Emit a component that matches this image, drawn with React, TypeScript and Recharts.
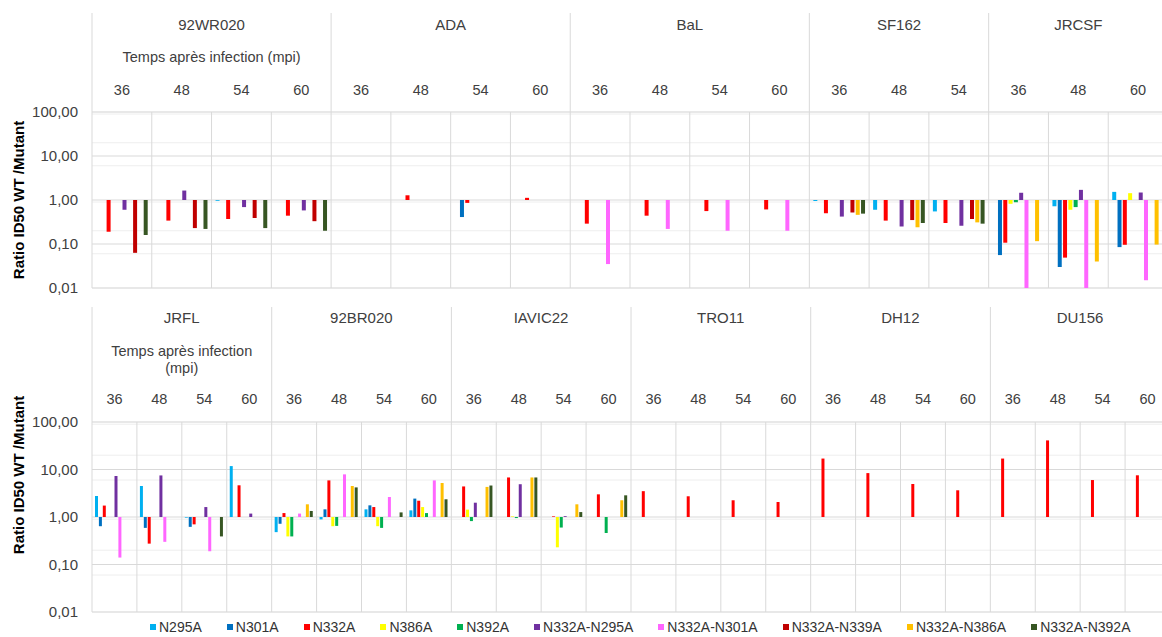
import React from 'react';
import { BarChart, Bar, XAxis, YAxis, CartesianGrid, Legend } from 'recharts';

// series (mutants) and their colours
const seriesNames = ['N295A', 'N301A', 'N332A', 'N386A', 'N392A', 'N332A-N295A', 'N332A-N301A', 'N332A-N339A', 'N332A-N386A', 'N332A-N392A'];
const seriesColors = ['#00B0F0', '#0070C0', '#FF0000', '#FFFF00', '#00B050', '#7030A0', '#FF66FF', '#C00000', '#FFC000', '#375623'];

// top panel: viruses and time points (mpi)
const topViruses = ['92WR020', 'ADA', 'BaL', 'SF162', 'JRCSF'];
const topTimes = [[36, 48, 54, 60], [36, 48, 54, 60], [36, 48, 54, 60], [36, 48, 54], [36, 48, 60]];

const topN295A = [null, null, 0.96, null, null, null, null, null, null, null, null, null, 0.95, 0.6, 0.55, null, 0.72, 1.53];
const topN301A = [null, null, null, null, null, null, 0.41, null, null, null, null, null, null, null, null, 0.056, 0.03, 0.085];
const topN332A = [0.19, 0.34, 0.37, 0.44, null, 1.28, 0.86, 1.12, 0.29, 0.44, 0.56, 0.61, 0.5, 0.34, 0.3, 0.107, 0.049, 0.096];
const topN386A = [null, null, null, null, null, null, null, null, null, null, null, null, null, null, null, 0.82, 0.6, 1.43];
const topN392A = [null, null, null, null, null, null, null, null, null, null, null, null, null, null, null, 0.89, 0.69, null];
const topN332AN295A = [0.6, 1.64, 0.69, 0.58, null, null, null, null, null, null, null, null, 0.42, 0.25, 0.26, 1.46, 1.7, 1.48];
const topN332AN301A = [null, null, null, null, null, null, null, null, 0.035, 0.22, 0.2, 0.2, null, null, null, 0.01, 0.01, 0.015];
const topN332AN339A = [0.063, 0.23, 0.39, 0.33, null, null, null, null, null, null, null, null, 0.52, 0.35, 0.37, null, null, null];
const topN332AN386A = [null, null, null, null, null, null, null, null, null, null, null, null, 0.46, 0.24, 0.31, 0.116, 0.04, 0.097];
const topN332AN392A = [0.16, 0.22, 0.23, 0.2, null, null, null, null, null, null, null, null, 0.49, 0.3, 0.29, null, null, null];

// bottom panel
const bottomViruses = ['JRFL', '92BR020', 'IAVIC22', 'TRO11', 'DH12', 'DU156'];
const bottomTimes = [[36, 48, 54, 60], [36, 48, 54, 60], [36, 48, 54, 60], [36, 48, 54, 60], [36, 48, 54, 60], [36, 48, 54, 60]];

const botN295A = [2.77, 4.5, 0.97, 11.8, 0.48, 0.89, 1.45, 1.38, null, null, null, null, null, null, null, null, null, null, null, null, null, null, null, null];
const botN301A = [0.64, 0.59, 0.62, null, 0.72, 1.45, 1.76, 2.44, null, null, null, null, null, null, null, null, null, null, null, null, null, null, null, null];
const botN332A = [1.74, 0.275, 0.7, 4.65, 1.21, 5.9, 1.62, 2.2, 4.4, 6.8, 1.03, 3.0, 3.5, 2.73, 2.25, 2.07, 17, 8.4, 4.95, 3.65, 17, 41, 6.0, 7.55];
const botN386A = [null, null, null, null, 0.39, 0.64, 0.64, 1.62, 1.43, 1.03, 0.23, null, null, null, null, null, null, null, null, null, null, null, null, null];
const botN392A = [null, null, null, null, 0.39, 0.65, 0.59, 1.21, 0.82, 0.95, 0.6, 0.46, null, null, null, null, null, null, null, null, null, null, null, null];
const botN332AN295A = [7.3, 7.5, 1.62, 1.18, null, null, null, null, 2.0, 4.9, 1.04, null, null, null, null, null, null, null, null, null, null, null, null, null];
const botN332AN301A = [0.14, 0.3, 0.19, null, 1.18, 7.9, 2.64, 5.9, null, null, null, null, null, null, null, null, null, null, null, null, null, null, null, null];
const botN332AN339A = [null, null, null, null, null, null, null, null, null, null, null, null, null, null, null, null, null, null, null, null, null, null, null, null];
const botN332AN386A = [null, null, null, null, 1.85, 4.5, null, 5.2, 4.3, 6.8, 1.85, 2.25, null, null, null, null, null, null, null, null, null, null, null, null];
const botN332AN392A = [null, null, 0.39, null, 1.34, 4.2, 1.25, 2.36, 4.6, 6.8, 1.27, 2.86, null, null, null, null, null, null, null, null, null, null, null, null];

const yTicks = [0.01, 0.1, 1, 10, 100];
const minorTicks = [0.01, 0.1, 1, 10].flatMap((d) => [2, 3, 4, 5, 6, 7, 8, 9].map((k) => d * k));

const CHART_W = 1180;
const PLOT_W = 1076;
const FONT = '"Liberation Sans", Arial, sans-serif';

function buildRows(viruses, times, series) {
  const rows = [];
  viruses.forEach((v, g) => {
    times[g].forEach((t, j) => {
      const i = rows.length;
      const row: any = { key: `${v}-${t}`, grp: v, time: t, first: j === 0, size: times[g].length, firstGroup: g === 0, idx: i + 0.5 };
      seriesNames.forEach((s, k) => { row[s] = series[k][i]; });
      rows.push(row);
    });
  });
  return rows;
}

const topRows = buildRows(topViruses, topTimes, [topN295A, topN301A, topN332A, topN386A, topN392A, topN332AN295A, topN332AN301A, topN332AN339A, topN332AN386A, topN332AN392A]);
const bottomRows = buildRows(bottomViruses, bottomTimes, [botN295A, botN301A, botN332A, botN386A, botN392A, botN332AN295A, botN332AN301A, botN332AN339A, botN332AN386A, botN332AN392A]);

const fmt = (v) => v.toFixed(2).replace('.', ',');

const makeHeaderTick = (rows, cfg) => (props) => {
  const { x, y, payload } = props;
  const row = rows.find((r) => r.key === payload.value);
  if (!row) return <g />;
  const band = PLOT_W / rows.length;
  const left = x - band / 2;
  const mid = left + (row.size * band) / 2;
  return (
    <g>
      <text x={x} y={y - cfg.timeDy} textAnchor="middle" fontSize={14.5} fill="#404040">{row.time}</text>
      {row.first && (
        <g>
          <line x1={left} x2={left} y1={y - cfg.lineTop} y2={y} stroke="#d9d9d9" />
          <text x={mid} y={y - cfg.grpDy} textAnchor="middle" fontSize={15} fill="#404040">{row.grp}</text>
          {row.firstGroup && cfg.temps.map((line, k) => (
            <text key={k} x={mid} y={y - cfg.tempsDy + k * 17} textAnchor="middle" fontSize={14.5} fill="#404040">{line}</text>
          ))}
        </g>
      )}
    </g>
  );
};

const LegendRow = () => (
  <div style={{ display: 'flex', alignItems: 'center', height: 20, paddingLeft: 150, fontFamily: FONT, fontSize: 14, color: '#333' }}>
    {seriesNames.map((s, k) => (
      <div key={s} style={{ display: 'flex', alignItems: 'center', marginRight: 25 }}>
        <span style={{ width: 6, height: 6, background: seriesColors[k], marginRight: 3, display: 'inline-block' }} />
        <span>{s}</span>
      </div>
    ))}
  </div>
);

function Panel({ rows, top, height, margin, axisHeight, barSize, barGap, header, showLegend }) {
  const n = rows.length;
  return (
    <div style={{ position: 'absolute', left: 0, top }}>
      <BarChart width={CHART_W} height={height} data={rows} margin={margin} barSize={barSize} barGap={barGap}>
        <XAxis
          xAxisId="cat"
          dataKey="key"
          orientation="top"
          height={axisHeight}
          axisLine={false}
          tickLine={false}
          tickSize={0}
          tickMargin={0}
          interval={0}
          tick={makeHeaderTick(rows, header)}
        />
        <YAxis
          yAxisId="v"
          type="number"
          scale="log"
          domain={[0.01, 100]}
          ticks={yTicks}
          allowDataOverflow
          width={72}
          axisLine={false}
          tickLine={false}
          tickSize={0}
          tickMargin={14}
          tickFormatter={fmt}
          tick={{ fontSize: 15, fill: '#404040' }}
        />
        <XAxis xAxisId="b" type="number" dataKey="idx" domain={[0, n]} ticks={Array.from({ length: n + 1 }, (_, i) => i)} allowDataOverflow hide height={0} />
        <YAxis yAxisId="m" type="number" scale="log" domain={[0.01, 100]} ticks={minorTicks} allowDataOverflow hide width={0} />
        <CartesianGrid xAxisId="b" yAxisId="m" vertical={false} stroke="#eeeeee" />
        <CartesianGrid xAxisId="b" yAxisId="v" stroke="#d9d9d9" />
        {seriesNames.map((s, k) => (
          <Bar
            key={s}
            name={s}
            xAxisId="cat"
            yAxisId="v"
            dataKey={(r) => (r[s] == null ? null : [Math.min(1, r[s]), Math.max(1, r[s])])}
            fill={seriesColors[k]}
            isAnimationActive={false}
          />
        ))}
        {showLegend && <Legend content={() => <LegendRow />} wrapperStyle={{ left: 0, width: CHART_W, top: height - 20 }} />}
      </BarChart>
    </div>
  );
}

const yTitleStyle: React.CSSProperties = {
  position: 'absolute',
  left: 18,
  transform: 'translate(-50%, -50%) rotate(-90deg)',
  whiteSpace: 'nowrap',
  fontWeight: 'bold',
  fontSize: 15,
  color: '#000',
};

export default function App() {
  return (
    <div style={{ position: 'absolute', left: 0, top: 0, width: 1162, height: 637, overflow: 'hidden', background: '#fff', fontFamily: FONT }}>
      <Panel
        rows={topRows}
        top={0}
        height={300}
        margin={{ top: 12, right: 12, bottom: 12, left: 20 }}
        axisHeight={100}
        barSize={4}
        barGap={1.3}
        header={{ timeDy: 17, grpDy: 82, tempsDy: 50, lineTop: 99, temps: ['Temps après infection (mpi)'] }}
        showLegend={false}
      />
      <Panel
        rows={bottomRows}
        top={300}
        height={337}
        margin={{ top: 7, right: 10, bottom: 5, left: 20 }}
        axisHeight={115}
        barSize={3}
        barGap={0.9}
        header={{ timeDy: 18, grpDy: 99, tempsDy: 66, lineTop: 115, temps: ['Temps après infection', '(mpi)'] }}
        showLegend
      />
      <div style={{ ...yTitleStyle, top: 200 }}>Ratio ID50 WT /Mutant</div>
      <div style={{ ...yTitleStyle, top: 475 }}>Ratio ID50 WT /Mutant</div>
    </div>
  );
}
